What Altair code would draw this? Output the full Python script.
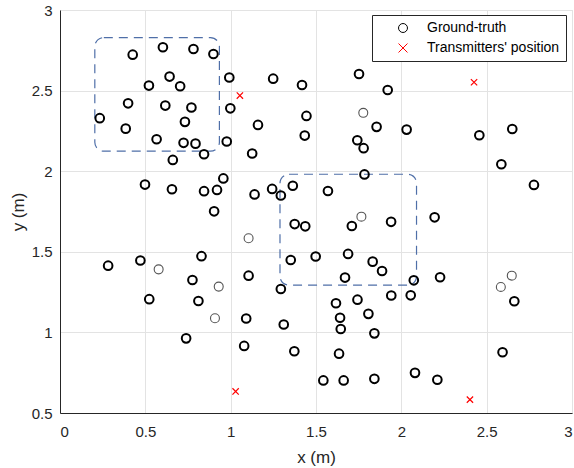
import altair as alt
import pandas as pd

# Ground-truth points (bold circles)
gt_x = [0.426, 0.603, 0.782, 0.899, 0.992, 1.249, 1.418, 0.642, 0.521, 0.704,
        0.399, 0.617, 0.770, 0.998, 0.233, 0.385, 0.732, 1.160, 1.444, 1.434,
        0.566, 0.724, 0.794, 0.977, 0.844, 0.661, 1.126, 0.498, 0.656, 0.844,
        0.920, 0.957, 1.140, 1.243, 1.294, 1.364, 0.903,
        1.752, 1.920, 1.855, 2.031, 1.742, 1.779, 2.457, 2.650, 2.586, 2.777,
        1.784, 1.570,
        1.375, 1.437, 0.282, 0.471, 0.829, 0.776, 1.105, 1.352, 1.498, 1.294,
        0.523, 0.811, 1.091, 1.311, 0.739, 1.079, 1.373, 1.543,
        1.710, 1.940, 2.195, 1.688, 1.832, 1.887, 1.670, 2.073, 2.227, 2.662,
        1.617, 1.743, 1.941, 2.055, 1.807, 1.641, 1.645, 1.842, 2.593, 1.635,
        2.080, 2.211, 1.662, 1.842]
gt_y = [2.723, 2.769, 2.758, 2.727, 2.581, 2.574, 2.535, 2.587, 2.531, 2.527,
        2.421, 2.407, 2.395, 2.390, 2.329, 2.264, 2.306, 2.287, 2.343, 2.221,
        2.198, 2.176, 2.171, 2.184, 2.105, 2.070, 2.110, 1.917, 1.888, 1.876,
        1.884, 1.955, 1.856, 1.890, 1.849, 1.910, 1.751,
        2.603, 2.504, 2.275, 2.258, 2.192, 2.143, 2.223, 2.262, 2.043, 1.915,
        1.980, 1.877,
        1.672, 1.658, 1.414, 1.446, 1.473, 1.325, 1.352, 1.449, 1.471, 1.269,
        1.206, 1.195, 1.086, 1.049, 0.963, 0.916, 0.883, 0.702,
        1.660, 1.686, 1.714, 1.487, 1.439, 1.381, 1.340, 1.323, 1.342, 1.193,
        1.181, 1.203, 1.229, 1.230, 1.115, 1.091, 1.021, 0.994, 0.877, 0.868,
        0.749, 0.706, 0.702, 0.712]

# Ground-truth points drawn thin / grey
thin_x = [1.777, 1.105, 0.578, 0.930, 0.908, 1.766, 2.583, 2.647]
thin_y = [2.362, 1.584, 1.391, 1.284, 1.088, 1.718, 1.282, 1.352]

# Transmitters
tx_x = [1.054, 2.426, 1.029, 2.402]
tx_y = [2.469, 2.552, 0.634, 0.583]

# Dashed rounded regions
box_x1 = [0.204, 1.289]
box_x2 = [0.934, 2.089]
box_y1 = [2.124, 1.293]
box_y2 = [2.829, 1.981]

series_names = ["Ground-truth", "Transmitters' position"]
tick_vals_x = [0, 0.5, 1, 1.5, 2, 2.5, 3]
tick_vals_y = [0.5, 1, 1.5, 2, 2.5, 3]

gt = pd.DataFrame({"x": gt_x, "y": gt_y, "series": series_names[0]})
thin = pd.DataFrame({"x": thin_x, "y": thin_y})
tx = pd.DataFrame({"x": tx_x, "y": tx_y, "series": series_names[1]})
boxes = pd.DataFrame({"x1": box_x1, "x2": box_x2, "y1": box_y1, "y2": box_y2})

FONT = "Liberation Sans"
xs = alt.Scale(domain=[0, 3], nice=False, zero=False)
ys = alt.Scale(domain=[0.5, 3], nice=False, zero=False)
cs = alt.Scale(domain=series_names, range=["black", "#ff0000"])
ss = alt.Scale(domain=series_names, range=["circle", "M-1,-1L1,1M-1,1L1,-1"])

xaxis = alt.Axis(values=tick_vals_x, format=".1~f", title="x (m)",
                 labelPadding=11, ticks=False, tickSize=0,
                 titleX=256, titleY=49, titleBaseline="alphabetic")
yaxis = alt.Axis(values=tick_vals_y, format=".1~f", title="y (m)",
                 labelPadding=8, ticks=False, tickSize=0,
                 titleX=-37, titleY=201.5, titleBaseline="alphabetic", titleAngle=-90)

X = alt.X("x:Q", scale=xs, axis=xaxis)
Y = alt.Y("y:Q", scale=ys, axis=yaxis)

leg = alt.Legend(title=None)

rects = alt.Chart(boxes).mark_rect(
    fill="transparent", stroke="#4f6fa8", strokeWidth=1.2,
    strokeDash=[9, 6], cornerRadius=9
).encode(
    x=alt.X("x1:Q", scale=xs, axis=xaxis), x2="x2:Q",
    y=alt.Y("y1:Q", scale=ys, axis=yaxis), y2="y2:Q"
)

thin_layer = alt.Chart(thin).mark_point(
    shape="circle", filled=False, size=80, strokeWidth=1.1, color="#555555", opacity=1
).encode(x=X, y=Y)

gt_layer = alt.Chart(gt).mark_point(
    filled=False, size=75, strokeWidth=2.0, opacity=1
).encode(
    x=X, y=Y,
    color=alt.Color("series:N", scale=cs, legend=leg),
    shape=alt.Shape("series:N", scale=ss, legend=leg),
)

tx_layer = alt.Chart(tx).mark_point(
    filled=False, size=40, strokeWidth=1.2, opacity=1
).encode(
    x=X, y=Y,
    color=alt.Color("series:N", scale=cs, legend=leg),
    shape=alt.Shape("series:N", scale=ss, legend=leg),
)

chart = alt.layer(rects, thin_layer, gt_layer, tx_layer).properties(
    width=512, height=403,
    padding={"left": 60, "top": 10, "right": 2, "bottom": 55},
    autosize="none",
).configure_view(
    stroke="#dcdcdc", strokeWidth=1
).configure_axis(
    labelFont=FONT, labelFontSize=15, labelColor="#262626",
    titleFont=FONT, titleFontSize=17, titleFontWeight="normal", titleColor="#262626",
    domainColor="#262626", domainWidth=1,
    gridColor="#e3e3e3", gridWidth=1,
).configure_legend(
    orient="none", legendX=312, legendY=5,
    strokeColor="#262626", fillColor="white", padding=6,
    labelFont=FONT, labelFontSize=14, labelColor="black",
    symbolOffset=18, labelOffset=17, rowPadding=6,
    symbolStrokeWidth=1, symbolSize=80, cornerRadius=0,
)

chart.save("out.html", embed_options={"renderer": "svg", "actions": False})
